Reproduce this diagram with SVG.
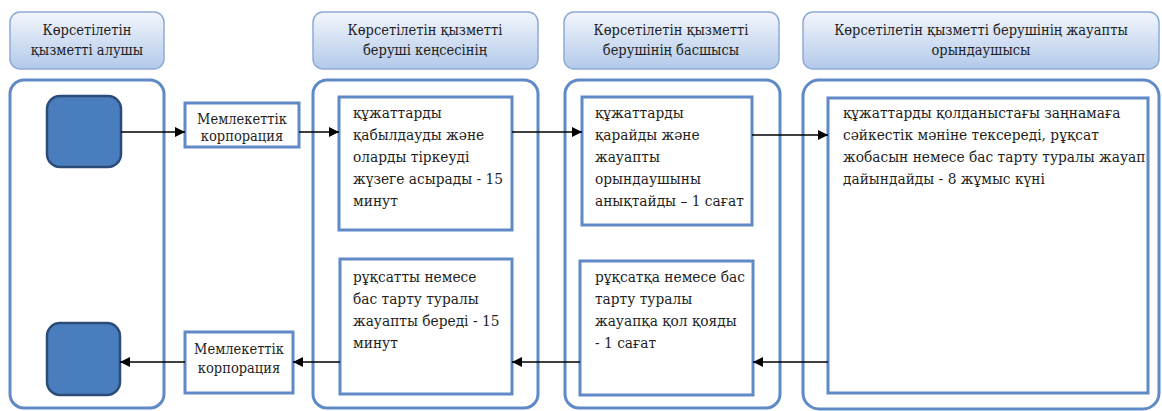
<svg xmlns="http://www.w3.org/2000/svg" width="1162" height="411" viewBox="0 0 1162 411">
<defs>
<linearGradient id="hg" x1="0" y1="0" x2="0" y2="1">
<stop offset="0" stop-color="#f2f6fc"/>
<stop offset="1" stop-color="#b3c9ea"/>
</linearGradient>
<marker id="ah" viewBox="0 0 10 10" refX="10" refY="5" markerWidth="10" markerHeight="10" markerUnits="userSpaceOnUse" orient="auto">
<path d="M0,0 L10,5 L0,10 z" fill="#000"/>
</marker>
<style>
.hdr{fill:url(#hg);stroke:#8eaad6;stroke-width:1.5}
.lane{fill:#fff;stroke:#5f8ac6;stroke-width:3}
.box{fill:#fff;stroke:#5f8ac6;stroke-width:3}
.term{fill:#4a7dbd;stroke:#2b4c78;stroke-width:2.5}
.ht{font-size:14.5px;text-anchor:middle}
.bt{font-size:15.3px}
.mt{font-size:14.5px;text-anchor:middle}
.c{stroke:#000;stroke-width:1.3;fill:none;marker-end:url(#ah)}
</style>
</defs>
<rect width="1162" height="411" fill="#fff"/>
<g font-family="DejaVu Serif Condensed, DejaVu Serif, serif" font-stretch="condensed" fill="#1e1e1e">
<g id="header1"><rect class="hdr" x="10" y="12" width="154" height="57" rx="10"/>
<text class="ht" x="87" y="35">Көрсетілетін</text><text class="ht" x="87" y="55">қызметті алушы</text></g>
<g id="header2"><rect class="hdr" x="313" y="12" width="225" height="57" rx="10"/>
<text class="ht" x="425" y="35">Көрсетілетін қызметті</text><text class="ht" x="425" y="55">беруші кеңсесінің</text></g>
<g id="header3"><rect class="hdr" x="564" y="12" width="215" height="57" rx="10"/>
<text class="ht" x="671" y="35">Көрсетілетін қызметті</text><text class="ht" x="671" y="55">берушінің басшысы</text></g>
<g id="header4"><rect class="hdr" x="803" y="12" width="356" height="57" rx="10"/>
<text class="ht" x="981" y="35">Көрсетілетін қызметті берушінің жауапты</text><text class="ht" x="981" y="55">орындаушысы</text></g>
<g id="lane1"><rect class="lane" x="10" y="80" width="154" height="328" rx="14"/></g>
<g id="lane2"><rect class="lane" x="313" y="80" width="225" height="328" rx="14"/></g>
<g id="lane3"><rect class="lane" x="565" y="80" width="215" height="328" rx="14"/></g>
<g id="lane4"><rect class="lane" x="803" y="80" width="356" height="329" rx="16"/></g>
<g id="start"><rect class="term" x="47" y="96" width="74" height="71" rx="13"/></g>
<g id="end"><rect class="term" x="47" y="323" width="73" height="72" rx="13"/></g>
<g id="corp1"><rect class="box" x="185" y="103" width="114" height="44"/>
<text class="mt" x="242" y="124">Мемлекеттік</text><text class="mt" x="242" y="141">корпорация</text></g>
<g id="corp2"><rect class="box" x="185" y="332" width="108" height="61"/>
<text class="mt" x="239" y="354">Мемлекеттік</text><text class="mt" x="239" y="373">корпорация</text></g>
<g id="step1"><rect class="box" x="339" y="97" width="173" height="133"/>
<text class="bt" x="353"><tspan x="353" y="118">құжаттарды</tspan><tspan x="353" y="140">қабылдауды және</tspan><tspan x="353" y="162">оларды тіркеуді</tspan><tspan x="353" y="184">жүзеге асырады - 15</tspan><tspan x="353" y="206">минут</tspan></text></g>
<g id="step2"><rect class="box" x="582" y="97" width="170" height="128"/>
<text class="bt" x="595"><tspan x="595" y="118">құжаттарды</tspan><tspan x="595" y="140">қарайды және</tspan><tspan x="595" y="162">жауапты</tspan><tspan x="595" y="184">орындаушыны</tspan><tspan x="595" y="206">анықтайды – 1 сағат</tspan></text></g>
<g id="step3"><rect class="box" x="828" y="98" width="320" height="295"/>
<text class="bt" x="843"><tspan x="843" y="118">құжаттарды қолданыстағы заңнамаға</tspan><tspan x="843" y="140">сәйкестік мәніне тексереді, рұқсат</tspan><tspan x="843" y="162">жобасын немесе бас тарту туралы жауап</tspan><tspan x="843" y="184">дайындайды - 8 жұмыс күні</tspan></text></g>
<g id="step4"><rect class="box" x="580" y="261" width="173" height="134"/>
<text class="bt" x="595"><tspan x="595" y="282">рұқсатқа немесе бас</tspan><tspan x="595" y="304">тарту туралы</tspan><tspan x="595" y="326">жауапқа қол қояды</tspan><tspan x="595" y="348">- 1 сағат</tspan></text></g>
<g id="step5"><rect class="box" x="340" y="259" width="172" height="135"/>
<text class="bt" x="353"><tspan x="353" y="282">рұқсатты немесе</tspan><tspan x="353" y="304">бас тарту туралы</tspan><tspan x="353" y="326">жауапты береді - 15</tspan><tspan x="353" y="348">минут</tspan></text></g>
</g>
<g id="connectors">
<line class="c" x1="121" y1="132" x2="185" y2="132"/>
<line class="c" x1="299" y1="132" x2="339" y2="132"/>
<line class="c" x1="512" y1="132" x2="582" y2="132"/>
<line class="c" x1="752" y1="135" x2="828" y2="135"/>
<line class="c" x1="828" y1="362" x2="753" y2="362"/>
<line class="c" x1="580" y1="362" x2="512" y2="362"/>
<line class="c" x1="340" y1="362" x2="293" y2="362"/>
<line class="c" x1="185" y1="362" x2="120" y2="362"/>
</g>
</svg>
